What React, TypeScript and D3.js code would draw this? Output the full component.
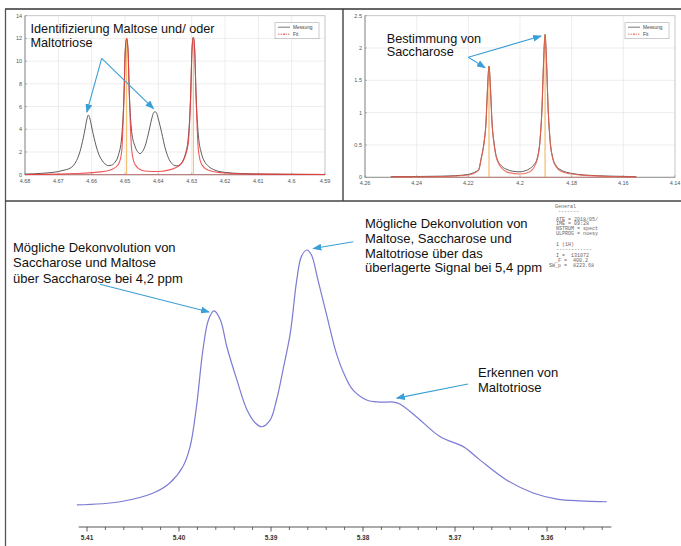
import React from 'react';
import * as d3 from 'd3';

// ---------- Top-left panel (Maltose / Maltotriose, ppm vs intensity) ----------
const tlXTicks = [4.68, 4.67, 4.66, 4.65, 4.64, 4.63, 4.62, 4.61, 4.6, 4.59];
const tlYTicks = [0, 2, 4, 6, 8, 10, 12, 14];
const tlMessung: [number, number][] = [
  [4.68, 0.05], [4.675, 0.12], [4.67, 0.28], [4.668, 0.42], [4.667, 0.5], [4.665, 1.0], [4.664, 1.6],
  [4.663, 2.6], [4.662, 4.0], [4.6615, 4.8], [4.661, 5.25], [4.6605, 4.9], [4.66, 4.2], [4.659, 2.9],
  [4.658, 1.9], [4.657, 1.3], [4.656, 0.95], [4.655, 0.8], [4.654, 0.85], [4.653, 1.1], [4.652, 1.7],
  [4.651, 3.3], [4.6503, 7], [4.6499, 11], [4.6495, 12], [4.6491, 11], [4.6487, 7.2], [4.648, 3.8],
  [4.647, 2.5], [4.646, 1.95], [4.6455, 1.85], [4.645, 1.95], [4.644, 2.5], [4.643, 3.6], [4.642, 4.9],
  [4.6415, 5.4], [4.641, 5.55], [4.6405, 5.4], [4.64, 4.9], [4.639, 3.7], [4.638, 2.4], [4.637, 1.5],
  [4.636, 1.0], [4.635, 0.8], [4.6345, 0.78], [4.634, 0.8], [4.633, 1.05], [4.632, 1.7], [4.631, 3.3],
  [4.6303, 7], [4.6299, 11], [4.6295, 12.1], [4.6291, 11], [4.6287, 7.2], [4.628, 3.5], [4.627, 1.8],
  [4.626, 1.1], [4.625, 0.75], [4.623, 0.4], [4.62, 0.2], [4.615, 0.1], [4.61, 0.06], [4.6, 0.03], [4.59, 0.02],
];
const tlFit: [number, number][] = [
  [4.68, 0.02], [4.67, 0.05], [4.665, 0.1], [4.66, 0.18], [4.656, 0.3], [4.654, 0.45], [4.652, 0.9],
  [4.651, 2.0], [4.6503, 7], [4.6499, 11], [4.6495, 12], [4.6491, 11], [4.6487, 7], [4.648, 2.2],
  [4.647, 0.9], [4.645, 0.4], [4.643, 0.3], [4.641, 0.28], [4.639, 0.3], [4.637, 0.4], [4.635, 0.6],
  [4.633, 1.0], [4.632, 1.6], [4.631, 2.8], [4.6303, 7], [4.6299, 11], [4.6295, 12.1], [4.6291, 11],
  [4.6287, 7], [4.628, 2.2], [4.627, 0.9], [4.625, 0.4], [4.62, 0.15], [4.61, 0.05], [4.59, 0.02],
];
const tlSticks: [number, number][] = [[4.6495, 12], [4.6295, 12.1]];
const tlArrowPeaks: [number, number][] = [[4.661, 5.25], [4.641, 5.55]];

// ---------- Top-right panel (Saccharose) ----------
const trXTicks = [4.26, 4.24, 4.22, 4.2, 4.18, 4.16, 4.14];
const trYTicks = [0, 0.5, 1, 1.5, 2, 2.5];
const trMessung: [number, number][] = [
  [4.25, 0.01], [4.24, 0.012], [4.23, 0.018], [4.225, 0.025], [4.22, 0.045], [4.218, 0.07], [4.216, 0.12],
  [4.215, 0.3], [4.214, 0.52], [4.21315, 0.86], [4.2126, 1.35], [4.212, 1.72], [4.2114, 1.35],
  [4.21085, 0.86], [4.21, 0.52], [4.209, 0.3], [4.207, 0.17], [4.205, 0.12], [4.203, 0.095], [4.2, 0.085],
  [4.198, 0.1], [4.196, 0.14], [4.1945, 0.2], [4.1933, 0.3], [4.1923, 0.55], [4.19145, 1.1], [4.1909, 1.75],
  [4.1903, 2.21], [4.1897, 1.75], [4.18915, 1.1], [4.1883, 0.55], [4.1873, 0.3], [4.186, 0.18],
  [4.184, 0.11], [4.18, 0.06], [4.175, 0.035], [4.165, 0.018], [4.155, 0.01],
];
const trFit: [number, number][] = [
  [4.25, 0.005], [4.24, 0.008], [4.23, 0.012], [4.22, 0.035], [4.218, 0.06], [4.216, 0.11],
  [4.215, 0.29], [4.214, 0.5], [4.21315, 0.85], [4.2126, 1.35], [4.212, 1.72], [4.2114, 1.35],
  [4.21085, 0.85], [4.21, 0.5], [4.209, 0.28], [4.207, 0.14], [4.205, 0.08], [4.2, 0.05],
  [4.196, 0.09], [4.1945, 0.16], [4.1933, 0.28], [4.1923, 0.54], [4.19145, 1.1], [4.1909, 1.75],
  [4.1903, 2.21], [4.1897, 1.75], [4.18915, 1.1], [4.1883, 0.54], [4.1873, 0.28], [4.186, 0.16],
  [4.184, 0.09], [4.18, 0.05], [4.175, 0.03], [4.165, 0.012], [4.155, 0.006],
];
const trSticks: [number, number][] = [[4.212, 1.72], [4.1903, 2.21]];

// ---------- Bottom panel (overlapping signal at 5.4 ppm) ----------
const btMajorTicks = [5.41, 5.40, 5.39, 5.38, 5.37, 5.36];
const btMinorTicks = [5.408, 5.406, 5.404, 5.402, 5.398, 5.396, 5.394, 5.392, 5.388, 5.386, 5.384,
  5.382, 5.378, 5.376, 5.374, 5.372, 5.368, 5.366, 5.364, 5.362, 5.358, 5.356, 5.354];
const btSpectrum: [number, number][] = [
  [5.4111, 3.8], [5.4064, 5.0], [5.4028, 8.3], [5.401, 12.1], [5.3996, 18.1], [5.3988, 25.7],
  [5.3981, 40.9], [5.3974, 62.3], [5.3968, 73.6], [5.3962, 77.0], [5.3955, 73.6], [5.3948, 63.5],
  [5.3937, 50.9], [5.3926, 39.6], [5.3917, 34.7], [5.391, 33.3], [5.3901, 35.8], [5.3894, 43.4],
  [5.3887, 54.7], [5.3879, 68.7], [5.3872, 88.7], [5.3867, 97.5], [5.3861, 100], [5.3856, 98.1],
  [5.3849, 88.7], [5.3839, 74.8], [5.3829, 61.1], [5.382, 52.8], [5.3811, 47.2], [5.3796, 43.4],
  [5.3782, 42.6], [5.3767, 42.6], [5.376, 41.9], [5.3742, 37.1], [5.3716, 29.5], [5.3691, 25.8],
  [5.3673, 20.8], [5.3644, 13.2], [5.3615, 8.3], [5.3589, 6.0], [5.3564, 5.3], [5.3535, 5.0],
];
const btArrowTargets: [number, number][] = [[5.3962, 77.0], [5.3861, 100], [5.3767, 42.6]];
const infoLines = ['General', '-------', 'ATE = 2018/05/', 'IME = 09:28', 'NSTRUM = spect',
  'ULPROG = noesy', '1 (1H)', '------------', 'I =  131072', '_F =  400.2', 'SW_p =  8223.68'];

const SANS = '"Liberation Sans", Arial, Helvetica, sans-serif';
const ARROW = '#3a9fd6';

type PanelProps = {
  x0: number; x1: number; y0: number; y1: number;
  xDom: [number, number]; yDom: [number, number];
  xTicks: number[]; yTicks: number[];
  mess: [number, number][]; fit: [number, number][]; sticks: [number, number][];
  fitColor: string; stickColor: string; labelDy: number;
};

function Panel(p: PanelProps) {
  const x = d3.scaleLinear().domain(p.xDom).range([p.x0, p.x1]);
  const y = d3.scaleLinear().domain(p.yDom).range([p.y1, p.y0]);
  const line = d3.line<[number, number]>().x(d => x(d[0])).y(d => y(d[1])).curve(d3.curveMonotoneX);
  const lx = p.x1 - 50;
  const ly = p.y0 + 7;
  return (
    <g>
      {p.xTicks.map(t => (
        <line key={'gx' + t} x1={x(t)} x2={x(t)} y1={p.y0} y2={p.y1} stroke="#e6e6e6" strokeWidth={0.7} />
      ))}
      {p.yTicks.map(t => (
        <line key={'gy' + t} x1={p.x0} x2={p.x1} y1={y(t)} y2={y(t)} stroke="#e6e6e6" strokeWidth={0.7} />
      ))}
      <rect x={p.x0} y={p.y0} width={p.x1 - p.x0} height={p.y1 - p.y0} fill="none" stroke="#bdbdbd" strokeWidth={0.7} />
      <line x1={p.x0} x2={p.x1} y1={p.y1} y2={p.y1} stroke="#888" strokeWidth={0.8} />
      <line x1={p.x0} x2={p.x0} y1={p.y0} y2={p.y1} stroke="#888" strokeWidth={0.8} />
      {p.xTicks.map(t => (
        <g key={'tx' + t}>
          <line x1={x(t)} x2={x(t)} y1={p.y1} y2={p.y1 - 2} stroke="#888" strokeWidth={0.6} />
          <text x={x(t)} y={p.y1 + p.labelDy} fontSize={5.5} fill="#555" textAnchor="middle" fontFamily={SANS}>{String(t)}</text>
        </g>
      ))}
      {p.yTicks.map(t => (
        <g key={'ty' + t}>
          <line x1={p.x0} x2={p.x0 + 2} y1={y(t)} y2={y(t)} stroke="#888" strokeWidth={0.6} />
          <text x={p.x0 - 3} y={y(t) + 2} fontSize={5.5} fill="#555" textAnchor="end" fontFamily={SANS}>{String(t)}</text>
        </g>
      ))}
      <path d={line(p.mess) || ''} fill="none" stroke="#4a4a4a" strokeWidth={0.9} />
      {p.sticks.map((s, i) => (
        <line key={'st' + i} x1={x(s[0])} x2={x(s[0])} y1={y(0)} y2={y(s[1])} stroke={p.stickColor} strokeWidth={0.9} />
      ))}
      <path d={line(p.fit) || ''} fill="none" stroke={p.fitColor} strokeWidth={1.1} strokeOpacity={0.85} />
      <line x1={x(p.fit[0][0])} x2={x(p.fit[p.fit.length - 1][0])} y1={y(0)} y2={y(0)} stroke={p.fitColor} strokeWidth={1} strokeOpacity={0.4} />
      <g>
        <rect x={lx} y={ly} width={44} height={16} fill="#fff" stroke="#aaa" strokeWidth={0.6} />
        <line x1={lx + 3} x2={lx + 15} y1={ly + 4.5} y2={ly + 4.5} stroke="#555" strokeWidth={0.8} />
        <text x={lx + 18} y={ly + 6.3} fontSize={4.8} fill="#444" fontFamily={SANS}>Messung</text>
        <line x1={lx + 3} x2={lx + 15} y1={ly + 11.5} y2={ly + 11.5} stroke={p.fitColor} strokeWidth={0.8} strokeDasharray="1.5,1" />
        <circle cx={lx + 9} cy={ly + 11.5} r={0.8} fill={p.fitColor} />
        <text x={lx + 18} y={ly + 13.3} fontSize={4.8} fill="#444" fontFamily={SANS}>Fit</text>
      </g>
    </g>
  );
}

function Arrow({ x1, y1, x2, y2 }: { x1: number; y1: number; x2: number; y2: number }) {
  return <line x1={x1} y1={y1} x2={x2} y2={y2} stroke={ARROW} strokeWidth={1.1} markerEnd="url(#ah)" />;
}

function Label({ x, y, lines, size, gap }: { x: number; y: number; lines: string[]; size: number; gap: number }) {
  return (
    <g>
      {lines.map((s, i) => (
        <text key={i} x={x} y={y + i * gap} fontSize={size} fill="#111" fontFamily={SANS}>{s}</text>
      ))}
    </g>
  );
}

export default function App() {
  const tlX = d3.scaleLinear().domain([4.68, 4.59]).range([25, 325]);
  const tlY = d3.scaleLinear().domain([0, 14]).range([174.7, 15.7]);
  const trX = d3.scaleLinear().domain([4.26, 4.14]).range([365, 675]);
  const trY = d3.scaleLinear().domain([0, 2.5]).range([177.3, 15.7]);

  const bx = d3.scaleLinear().domain([5.41, 5.36]).range([87, 547]);
  const by = d3.scaleLinear().domain([0, 100]).range([515, 250]);
  const bLine = d3.line<[number, number]>().x(d => bx(d[0])).y(d => by(d[1])).curve(d3.curveCatmullRom.alpha(0.5));
  const axisY = 527;
  const axisStart = bx(5.4109);
  const axisEnd = bx(5.353);

  const [bp1, bp2, bp3] = btArrowTargets;

  return (
    <svg width={681} height={546} style={{ position: 'absolute', left: 0, top: 0, background: '#fff' }} fontFamily={SANS}>
      <defs>
        <marker id="ah" markerUnits="userSpaceOnUse" markerWidth={9} markerHeight={7} refX={8} refY={3.5} orient="auto">
          <path d="M0,0 L9,3.5 L0,7 z" fill={ARROW} />
        </marker>
      </defs>
      <rect x={0} y={0} width={681} height={546} fill="#fff" />

      <line x1={5} x2={681} y1={9} y2={9} stroke="#333" strokeWidth={1.3} />
      <line x1={5.5} x2={5.5} y1={9} y2={546} stroke="#555" strokeWidth={1.3} />
      <line x1={343} x2={343} y1={9} y2={201} stroke="#333" strokeWidth={1.3} />
      <line x1={5} x2={681} y1={201} y2={201} stroke="#444" strokeWidth={1.3} />

      <Panel x0={25} x1={325} y0={15.7} y1={174.7} xDom={[4.68, 4.59]} yDom={[0, 14]}
        xTicks={tlXTicks} yTicks={tlYTicks} mess={tlMessung} fit={tlFit} sticks={tlSticks}
        fitColor="#ee3b3b" stickColor="#f2b04a" labelDy={8.5} />
      <Label x={30.5} y={33.3} lines={['Identifizierung Maltose und/ oder', 'Maltotriose']} size={12.7} gap={13.6} />
      {tlArrowPeaks.map((pk, i) => (
        <Arrow key={'tla' + i} x1={101.7} y1={58.3} x2={tlX(pk[0]) - 1.5} y2={tlY(pk[1]) - 3} />
      ))}

      <Panel x0={365} x1={675} y0={15.7} y1={177.3} xDom={[4.26, 4.14]} yDom={[0, 2.5]}
        xTicks={trXTicks} yTicks={trYTicks} mess={trMessung} fit={trFit} sticks={trSticks}
        fitColor="#ec5a48" stickColor="#f3a43a" labelDy={8} />
      <Label x={386.7} y={42.5} lines={['Bestimmung von', 'Saccharose']} size={12.7} gap={13.2} />
      {trSticks.map((pk, i) => (
        <Arrow key={'tra' + i} x1={468.3} y1={57.3} x2={trX(pk[0]) - 4} y2={trY(pk[1]) + 1.5} />
      ))}

      <path d={bLine(btSpectrum) || ''} fill="none" stroke="#7b7bd4" strokeWidth={1.2} />
      <line x1={axisStart} x2={axisEnd} y1={axisY} y2={axisY} stroke="#444" strokeWidth={0.9} />
      {btMinorTicks.map(t => (
        <line key={'mn' + t} x1={bx(t)} x2={bx(t)} y1={axisY} y2={axisY + 3} stroke="#444" strokeWidth={0.8} />
      ))}
      {btMajorTicks.map(t => (
        <g key={'mj' + t}>
          <line x1={bx(t)} x2={bx(t)} y1={axisY} y2={axisY + 4.5} stroke="#444" strokeWidth={0.9} />
          <text x={bx(t)} y={axisY + 13} fontSize={6.5} fontWeight="bold" fill="#333" textAnchor="middle" fontFamily={SANS}>{t.toFixed(2)}</text>
        </g>
      ))}

      <Label x={13} y={252.3} lines={['Mögliche Dekonvolution von', 'Saccharose und Maltose', 'über Saccharose bei 4,2 ppm']} size={13} gap={15.1} />
      <Arrow x1={100} y1={284.3} x2={bx(bp1[0]) - 5} y2={by(bp1[1]) + 1} />

      <Label x={365} y={228.3} lines={['Mögliche Dekonvolution von', 'Maltose, Saccharose und', 'Maltotriose über das', 'überlagerte Signal bei 5,4 ppm']} size={13} gap={14.6} />
      <Arrow x1={353.3} y1={241.7} x2={bx(bp2[0]) + 6.5} y2={by(bp2[1]) - 1.5} />

      <Label x={478} y={376.7} lines={['Erkennen von', 'Maltotriose']} size={13} gap={15} />
      <Arrow x1={468} y1={384} x2={bx(bp3[0]) + 3.5} y2={by(bp3[1]) - 4} />

      <g fontFamily='"Liberation Mono", "DejaVu Sans Mono", monospace' fontSize={5} fill="#666">
        {infoLines.map((s, i) => {
          const yy = [208.3, 213.3, 220.7, 225.3, 230, 234.7, 245.7, 251, 256.7, 261.7, 266.7][i];
          const xx = [555, 558, 556, 556, 556, 556, 556, 556, 556, 555, 549][i];
          return <text key={'in' + i} x={xx} y={yy} style={{ whiteSpace: 'pre' }}>{s}</text>;
        })}
      </g>
    </svg>
  );
}
